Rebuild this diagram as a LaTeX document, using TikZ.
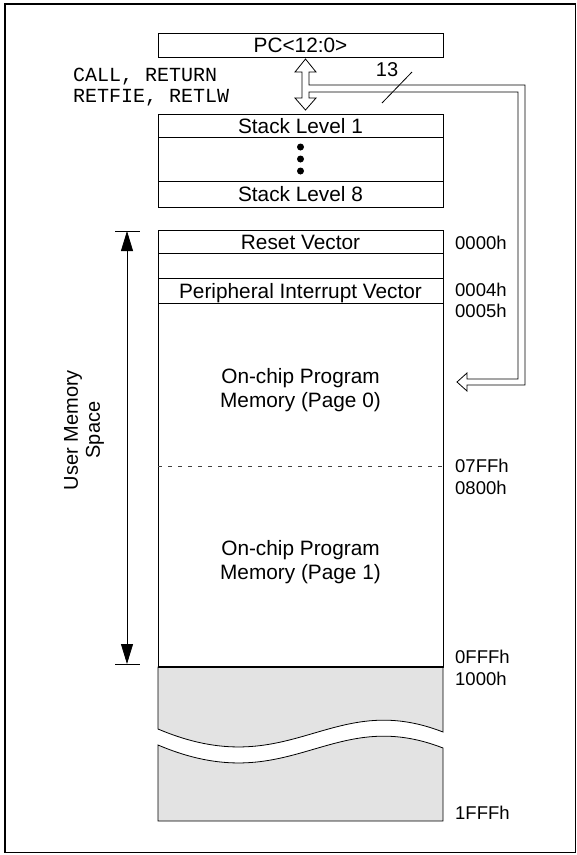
\documentclass[tikz,border=0pt]{standalone}
\usepackage{fontspec}
\setmainfont{Liberation Sans}
\newfontfamily\monofont{Liberation Mono}
\usetikzlibrary{arrows.meta, positioning}
\definecolor{memgray}{gray}{0.89}

\tikzset{
  cell/.style={draw, line width=0.8pt, minimum width=285pt, inner sep=0pt, outer sep=0pt,
    text height=15pt, text depth=0pt, font=\fontsize{20.8}{24}\selectfont},
  addr/.style={anchor=west, inner sep=0pt, text height=13pt, text depth=0pt,
    font=\fontsize{18.5}{22}\selectfont},
  span/.style={line width=0.8pt, {Triangle[length=20pt,width=12pt]}-{Triangle[length=20pt,width=12pt]}}
}

\begin{document}
\begin{tikzpicture}[x=1pt, y=-1pt]
\useasboundingbox (0,0) rectangle (577,855);
\draw [line width=1.8pt] (5,4) rectangle (575.5,852.5);

% program counter and stack
\node [cell, minimum height=24pt] (pc) at (300.5,45) {PC<12:0>};
\node [cell, minimum height=23pt] (lvl1) at (300.5,125.5) {Stack Level 1};
\node [cell, minimum height=44pt, below=0pt of lvl1] (lvldots) {};
\node [cell, minimum height=26pt, below=0pt of lvldots] (lvl8) {Stack Level 8};
\foreach \dy in {-12,0,12}
  \fill ([yshift=\dy pt]lvldots.center) circle [radius=3.5pt];

\node [anchor=west, align=left, inner sep=0pt, font=\monofont\fontsize{20}{21}\selectfont] (callret) at (73,87.5) {CALL, RETURN\\RETFIE, RETLW};

% hollow bus from PC to program memory
\draw [line width=0.8pt, fill=white] (309,85) -- (309,72) -- (316,72) -- (305.5,59) -- (295,72) -- (302,72) -- (302,98) -- (295,98) -- (305.5,110) -- (316,98) -- (309,98) -- (309,92) -- (518,92) -- (518,379) -- (467,379) -- (467,373) -- (457,382) -- (467,391) -- (467,385) -- (525,385) -- (525,85) -- cycle;
\node [inner sep=0pt, font=\fontsize{20}{22}\selectfont] (buswidth) at (387,70) {13};
\draw [line width=0.8pt] (382,103) -- (412,72);

% program memory map
\node [cell, minimum height=23pt] (reset) at (300.5,241.5) {Reset Vector};
\node [cell, minimum height=25pt, below=0pt of reset] (spare) {};
\node [cell, minimum height=25pt, below=0pt of spare] (periph) {Peripheral Interrupt Vector};
\node [cell, minimum height=364pt, below=0pt of periph] (prog) {};
\draw [black!75, line width=0.8pt, dash pattern=on 4pt off 6pt] (158,466) -- (443,466);
\node [align=center, font=\fontsize{20.8}{24}\selectfont] (page0) at (300.5,390) {On-chip Program\\Memory (Page 0)};
\node [align=center, font=\fontsize{20.8}{24}\selectfont] (page1) at (300.5,562) {On-chip Program\\Memory (Page 1)};

% unimplemented space with break
\draw [line width=0.8pt, fill=memgray] (158,667) -- (443,667) -- (443,732) .. controls (330,688) and (290,785) .. (158,729) -- cycle;
\draw [line width=0.8pt, fill=memgray] (158,745) .. controls (290,801) and (330,704) .. (443,748) -- (443,821) -- (158,821) -- cycle;
\draw [line width=1.5pt] (158,667) -- (443,667);

\foreach \yy/\txt in {243/0000h, 290/0004h, 311/0005h, 466/07FFh, 488/0800h, 657/0FFFh, 679/1000h, 813/1FFFh}
  \node [addr] (a\txt) at (455,\yy) {\txt};

% user memory span
\coordinate (usertop) at (127,231);
\coordinate (userbot) at (127,664);
\draw [line width=0.8pt] ([xshift=-12pt]usertop) -- ([xshift=13pt]usertop);
\draw [line width=0.8pt] ([xshift=-12pt]userbot) -- ([xshift=13pt]userbot);
\draw [span] (usertop) -- (userbot);
\node [rotate=90, align=center, font=\fontsize{20}{22}\selectfont] (userlbl) at (84,430) {User Memory\\Space};
\end{tikzpicture}
\end{document}
